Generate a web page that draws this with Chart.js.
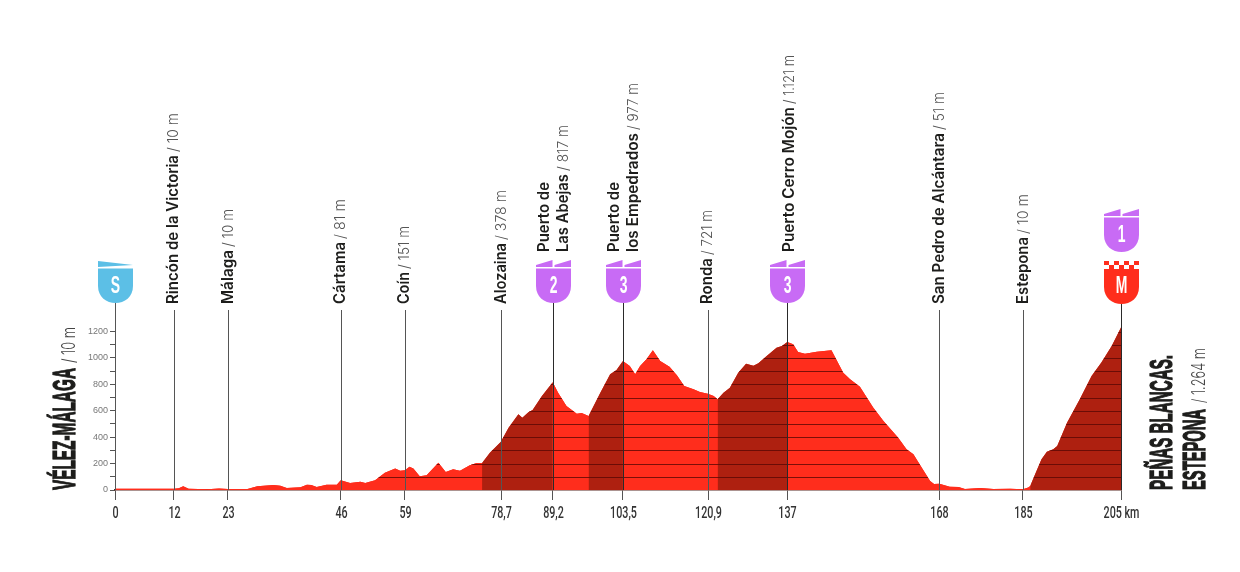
<!DOCTYPE html>
<html>
<head>
<meta charset="utf-8">
<title>Perfil de etapa</title>
<script src="https://cdn.jsdelivr.net/npm/chart.js@4/dist/chart.umd.min.js"></script>
<style>
html,body{margin:0;padding:0;background:#fff;}
canvas{display:block;}
</style>
</head>
<body>
<canvas id="perfil" width="1240" height="572"></canvas>
<script>
// profile
var profileKm = [0,12,13,13.9,15,18.8,21.2,23,27,29,32.3,33.7,35,37.8,39.1,40,41.1,43.1,45.2,46,47.9,50,51,53,55,57.1,58.1,59.1,60,60.8,62.1,63.5,65.9,67.4,68.9,70.3,72.3,73.7,74.8,76.4,78.6,80.2,82.2,83,84.3,85.1,87,89.2,90.3,92,94.1,95.1,96.5,98.9,100.9,102.2,103.5,104.9,106,107,108.3,109.6,111.1,113,114.5,116,117.9,119.2,120.8,122,122.8,124,125.3,127,128.6,130.1,131.1,132.8,134.8,135.9,137,138.2,139.2,140.6,143,146,148.4,149.8,151.8,154.5,156.6,159.6,161.3,162.7,164,166.1,166.9,168,170.1,171.9,173.2,176.3,179,182.4,185,186.1,186.5,187.5,188.8,189.9,191.2,192,194,196.6,199,201,203.1,205];
var profileAlt = [10,10,13,28,10,6,12,8,8,28,38,33,15,20,40,38,23,40,40,73,53,63,53,73,131,162,146,149,177,162,104,111,207,136,157,146,187,205,205,283,364,472,573,548,591,606,712,817,737,636,578,583,560,737,876,909,977,939,876,939,990,1058,977,934,869,788,763,742,730,712,687,737,775,889,957,942,960,1015,1078,1091,1121,1104,1045,1033,1048,1058,889,838,783,624,523,396,308,270,194,68,45,48,25,23,8,15,8,10,5,18,30,119,232,290,308,333,510,687,864,965,1091,1230];

// shaded climbs, km from / to
var climbFrom = [74.8,96.5,122.8,186.5];
var climbTo = [89.2,103.5,137,205];

// stations
var stageKm = [0,12,23,46,59,78.7,89.2,103.5,120.9,137,168,185,205];
var stageKmLabels = ['0','12','23','46','59','78,7','89,2','103,5','120,9','137','168','185','205 km'];
var stageNames = ['', 'Rincón de la Victoria','Málaga','Cártama','Coín','Alozaina','Las Abejas','los Empedrados','Ronda','Puerto Cerro Mojón','San Pedro de Alcántara','Estepona',''];
var stageNamesTop = ['','','','','','','Puerto de','Puerto de','','','','',''];
var stageAlts = ['', '/ 10 m','/ 10 m','/ 81 m','/ 151 m','/ 378 m','/ 817 m','/ 977 m','/ 721 m','/ 1.121 m','/ 51 m','/ 10 m',''];
var stageBadges = ['S','','','','','','2','3','','3','','','M'];

// y axis
var altMax = 1240;
var altStep = 100;
var altLabelStep = 200;

// layout of the rotated labels: baseline offset from the line, start y, name end y, altitude end y
var labelBoxes = [null,[3.5,304,155,113],[4.5,304,250,209],[3.5,304,242,199],[3.5,304,272,226],[4,304,243,190],[14.5,252,174,125],[14.5,252,133,83],[3.5,304,258,210],[6,252,107,55],[4.5,304,133,92],[4,304,237,194],null];

var RED = '#ff2d1c', DARK = '#ae2010', PURPLE = '#c86bf5', BLUE = '#5cbfe6';
var NAME_FONT = '600 15.5px Inter, "Liberation Sans", sans-serif';
var ALT_FONT = '300 15px Inter, "Liberation Sans", sans-serif';
var BIG_FONT = 'bold 32px "Liberation Sans", sans-serif';
var THIN_FONT = '300 18px Inter, "Liberation Sans", sans-serif';
var KM_FONT = '500 16.5px Roboto, "Liberation Sans", sans-serif';

function inClimb(km){
    for(var i=0;i<climbFrom.length;i++){
        if(km>=climbFrom[i] && km<climbTo[i]) return true;
    }
    return false;
}

// text squeezed to a given length, running upwards from (x,y)
function upText(ctx, text, x, y, len, font, color, heavy){
    ctx.save();
    ctx.font = font;
    ctx.fillStyle = color;
    ctx.textAlign = 'left';
    ctx.textBaseline = 'alphabetic';
    var w = ctx.measureText(text).width;
    ctx.translate(x, y);
    ctx.rotate(-Math.PI/2);
    ctx.scale(len/w, 1);
    ctx.fillText(text, 0, 0);
    if(heavy){
        ctx.strokeStyle = color;
        ctx.lineWidth = heavy;
        ctx.strokeText(text, 0, 0);
    }
    ctx.restore();
}

function squeezed(ctx, text, cx, baseline, font, color, sx){
    ctx.save();
    ctx.font = font;
    ctx.fillStyle = color;
    ctx.textAlign = 'center';
    ctx.textBaseline = 'alphabetic';
    ctx.translate(cx, baseline);
    ctx.scale(sx, 1);
    ctx.fillText(text, 0, 0);
    ctx.restore();
}

function shieldPath(ctx, cx, top, bottom){
    var hw = 17.5;
    ctx.beginPath();
    ctx.moveTo(cx-hw, top);
    ctx.lineTo(cx+hw, top);
    ctx.lineTo(cx+hw, bottom-17);
    ctx.bezierCurveTo(cx+hw, bottom-6, cx+9, bottom, cx, bottom);
    ctx.bezierCurveTo(cx-9, bottom, cx-hw, bottom-6, cx-hw, bottom-17);
    ctx.closePath();
}

function badgeLetter(ctx, text, cx, baseline){
    squeezed(ctx, text, cx, baseline, 'bold 24px "Liberation Sans", sans-serif', '#fff', 0.58);
}

function climbBadge(ctx, cx, top, text){
    // two little flags above the shield
    ctx.fillStyle = PURPLE;
    ctx.beginPath();
    ctx.moveTo(cx-17.5, top+5); ctx.lineTo(cx-1, top); ctx.lineTo(cx-1, top+7); ctx.lineTo(cx-17.5, top+7); ctx.closePath();
    ctx.moveTo(cx+1, top+5); ctx.lineTo(cx+17.5, top); ctx.lineTo(cx+17.5, top+7); ctx.lineTo(cx+1, top+7); ctx.closePath();
    ctx.fill();
    shieldPath(ctx, cx, top+8.5, top+43);
    ctx.fill();
    badgeLetter(ctx, text, cx, top+33);
}

function startBadge(ctx, cx, top, text){
    ctx.fillStyle = BLUE;
    ctx.beginPath();
    ctx.moveTo(cx-17.5, top+1); ctx.lineTo(cx+17.5, top+5); ctx.lineTo(cx-17.5, top+7);
    ctx.closePath();
    ctx.fill();
    shieldPath(ctx, cx, top+8.5, top+43);
    ctx.fill();
    badgeLetter(ctx, text, cx, top+33);
}

function finishBadge(ctx, cx, top, text){
    var s = 5;
    ctx.fillStyle = RED;
    for(var r=0;r<2;r++){
        for(var c=0;c<7;c++){
            if((r+c)%2===0) ctx.fillRect(cx-17.5+c*s, top+r*4, s, 4);
        }
    }
    shieldPath(ctx, cx, top+8, top+43);
    ctx.fill();
    badgeLetter(ctx, text, cx, top+32);
}

var decorPlugin = {
    id: 'decor',
    afterDatasetsDraw: function(chart){
        var ctx = chart.ctx, xs = chart.scales.x, ys = chart.scales.y;
        var area = chart.chartArea;
        var base = ys.getPixelForValue(0);

        // contour lines, only inside the profile
        ctx.save();
        ctx.beginPath();
        ctx.moveTo(xs.getPixelForValue(profileKm[0]), base);
        for(var i=0;i<profileKm.length;i++){
            ctx.lineTo(xs.getPixelForValue(profileKm[i]), ys.getPixelForValue(profileAlt[i]));
        }
        ctx.lineTo(xs.getPixelForValue(profileKm[profileKm.length-1]), base);
        ctx.closePath();
        ctx.clip();
        ctx.strokeStyle = 'rgba(90,8,4,0.8)';
        ctx.lineWidth = 1;
        for(var v=altStep; v<=altMax; v+=altStep){
            var yy = Math.round(ys.getPixelForValue(v))+0.5;
            ctx.beginPath();
            ctx.moveTo(area.left, yy);
            ctx.lineTo(area.right, yy);
            ctx.stroke();
        }
        ctx.restore();

        // station lines, labels and badges
        stageKm.forEach(function(km, i){
            var px = Math.round(xs.getPixelForValue(km))+0.5;
            var hasBadge = stageBadges[i]!=='';
            ctx.save();
            ctx.strokeStyle = hasBadge ? '#2a2a2a' : '#555';
            if(i===0) ctx.strokeStyle = '#555';
            ctx.lineWidth = 1;
            ctx.beginPath();
            ctx.moveTo(px, hasBadge ? 303 : 310);
            ctx.lineTo(px, base);
            ctx.stroke();
            ctx.restore();

            squeezed(ctx, stageKmLabels[i], px, 518, KM_FONT, '#333', 0.65);

            var box = labelBoxes[i];
            if(box){
                var bx = px+box[0];
                upText(ctx, stageNames[i], bx, box[1], box[1]-box[2], NAME_FONT, '#1d1d1b');
                upText(ctx, stageAlts[i], bx, box[2]-3, box[2]-3-box[3], ALT_FONT, '#555');
                if(stageNamesTop[i]){
                    upText(ctx, stageNamesTop[i], px-4.5, box[1], 70, NAME_FONT, '#1d1d1b');
                }
            }

            if(stageBadges[i]==='S'){
                startBadge(ctx, px, 260, 'S');
            }else if(stageBadges[i]==='M'){
                finishBadge(ctx, px, 261, 'M');
                climbBadge(ctx, px, 209, '1');
            }else if(hasBadge){
                climbBadge(ctx, px, 260, stageBadges[i]);
            }
        });

        // start and finish names
        upText(ctx, 'VÉLEZ-MÁLAGA', 75, 490, 122, BIG_FONT, '#1d1d1b', 1.3);
        upText(ctx, '/ 10 m', 75, 363, 36, THIN_FONT, '#444');
        upText(ctx, 'PEÑAS BLANCAS.', 1172, 490, 135, BIG_FONT, '#1d1d1b', 1.3);
        upText(ctx, 'ESTEPONA', 1205, 490, 81, BIG_FONT, '#1d1d1b', 1.3);
        upText(ctx, '/ 1.264 m', 1205, 403, 55, THIN_FONT, '#444');
    }
};

document.addEventListener('DOMContentLoaded', function(){
    var points = profileKm.map(function(km, i){ return {x:km, y:profileAlt[i]}; });
    new Chart(document.getElementById('perfil'), {
        type: 'line',
        data: {
            datasets: [{
                label: 'Subidas',
                data: points,
                fill: 'origin',
                backgroundColor: RED,
                borderWidth: 0,
                borderColor: 'rgba(0,0,0,0)',
                pointRadius: 0,
                tension: 0,
                segment: {
                    backgroundColor: function(c){ return inClimb(c.p0.parsed.x) ? DARK : RED; }
                }
            },{
                // plain fill underneath, hides the seams between segments
                label: 'Altitud',
                data: points,
                fill: 'origin',
                backgroundColor: RED,
                borderWidth: 0,
                borderColor: 'rgba(0,0,0,0)',
                pointRadius: 0,
                tension: 0
            }]
        },
        options: {
            responsive: false,
            animation: false,
            events: [],
            layout: {padding:{left:0, right:119, top:326.3, bottom:0}},
            plugins: {legend:{display:false}, tooltip:{enabled:false}},
            scales: {
                x: {
                    type: 'linear',
                    min: 0,
                    max: 205,
                    afterBuildTicks: function(s){ s.ticks = stageKm.map(function(v){ return {value:v}; }); },
                    afterFit: function(s){ s.height = 82; },
                    border: {color:'#5a2a24', width:1.5},
                    grid: {drawOnChartArea:false, drawTicks:true, tickLength:10, color:'#555'},
                    ticks: {display:false}
                },
                y: {
                    min: 0,
                    max: altMax,
                    afterFit: function(s){ s.width = 115; },
                    border: {display:false},
                    grid: {drawOnChartArea:false, drawTicks:true, tickLength:5, color:'#555'},
                    ticks: {
                        stepSize: altStep,
                        includeBounds: false,
                        autoSkip: false,
                        padding: 2,
                        color: '#777',
                        font: {family:'"Liberation Sans", sans-serif', size:9},
                        callback: function(v){ return v%altLabelStep===0 ? String(v) : ''; }
                    }
                }
            }
        },
        plugins: [decorPlugin]
    });
});
</script>
</body>
</html>
